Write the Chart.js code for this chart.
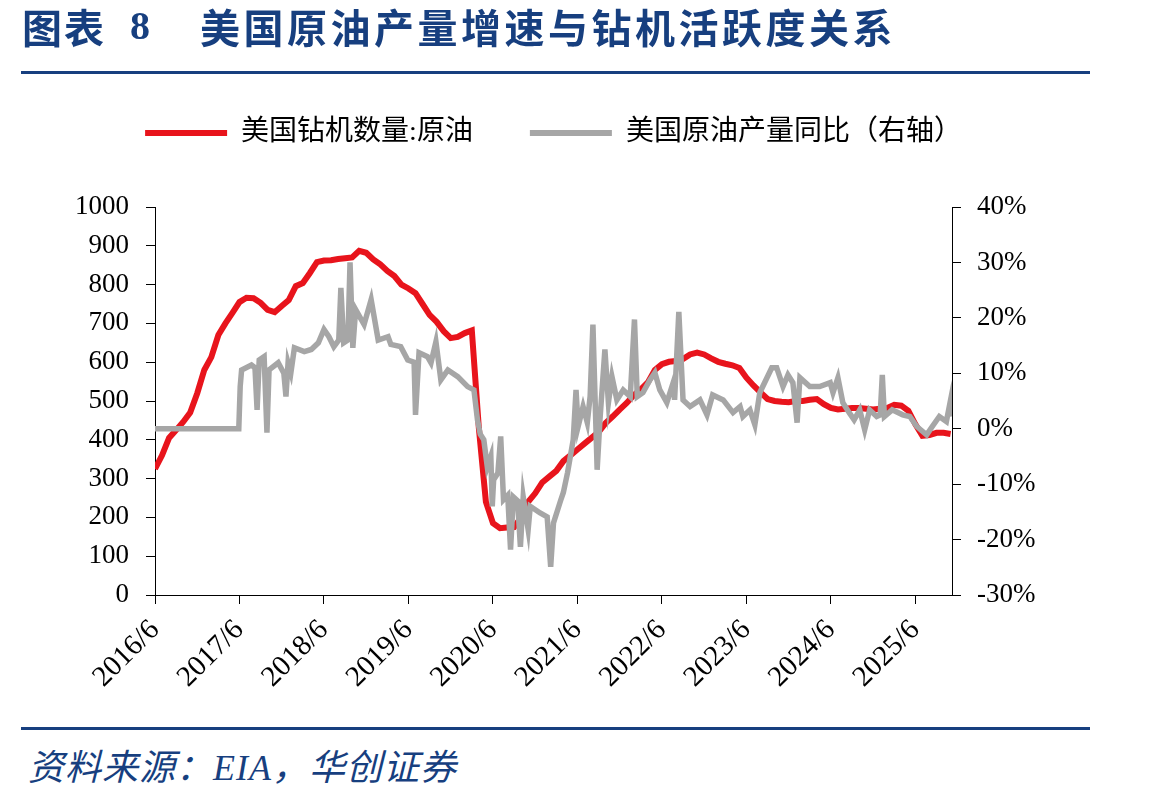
<!DOCTYPE html>
<html lang="zh">
<head>
<meta charset="utf-8">
<title>美国原油产量增速与钻机活跃度关系</title>
<script src="https://cdn.jsdelivr.net/npm/chart.js@4.4.0/dist/chart.umd.min.js"></script>
<style>
  body { margin: 0; background: #fff; }
  .page { position: relative; width: 1149px; height: 795px; overflow: hidden; }
  .chart-box { position: absolute; left: 0; top: 0; width: 1149px; height: 720px; }
  .title { position: absolute; top: 2px; font-weight: bold; font-size: 40px; line-height: 48px;
           color: #173F7F; font-family: "Noto Sans CJK SC"; white-space: nowrap; }
  .rule { position: absolute; left: 21px; width: 1069px; height: 3px; background: #173F7F; }
  .source { position: absolute; left: 28px; top: 743px; font-style: italic; font-size: 36px;
            line-height: 42px; letter-spacing: 1px; color: #173F7F; font-family: "Noto Sans CJK SC";
            white-space: nowrap; }
</style>
</head>
<body>
<div class="page">
  <div class="chart-box"><canvas id="oilChart"></canvas></div>
  <div class="title" style="left:22px; letter-spacing:2px;">图表</div>
  <div class="title" style="left:130px; font-family:'Liberation Serif';">8</div>
  <div class="title" style="left:200px; letter-spacing:3.5px;">美国原油产量增速与钻机活跃度关系</div>
  <div class="rule" style="top:71px;"></div>
  <div class="rule" style="top:727px;"></div>
  <div class="source">资料来源：<span style="font-family:'Liberation Serif'">EIA</span>，华创证券</div>
</div>

<script>
// x positions are months since 2016/6
const xTickLabels = ['2016/6', '2017/6', '2018/6', '2019/6', '2020/6',
                     '2021/6', '2022/6', '2023/6', '2024/6', '2025/6'];

// 美国钻机数量:原油, monthly from 2016/6 to 2025/11
const rigCount = [
    325, 360, 405, 425, 446, 470, 520, 580, 613, 670, 700, 727,   // 2016/6 - 2017/5
    755, 766, 765, 753, 735, 729, 745, 760, 796, 804, 830, 858,   // 2017/6 - 2018/5
    862, 863, 866, 868, 870, 887, 882, 865, 852, 835, 822, 800,   // 2018/6 - 2019/5
    790, 778, 750, 722, 704, 680, 662, 665, 675, 682, 430, 240,   // 2019/6 - 2020/5
    185, 172, 174, 175, 200, 240, 262, 290, 305, 320, 345, 360,   // 2020/6 - 2021/5
    375, 390, 405, 420, 443, 460, 478, 495, 515, 530, 548, 580,   // 2021/6 - 2022/5
    595, 601, 603, 608, 620, 625, 620, 610, 601, 596, 592, 585,   // 2022/6 - 2023/5
    560, 540, 522, 505, 500, 498, 497, 500, 500, 503, 505, 492,   // 2023/6 - 2024/5
    482, 478, 480, 482, 482, 480, 478, 480, 482, 490, 488, 475,   // 2024/6 - 2025/5
    440, 410, 412, 418, 418, 415                                  // 2025/6 - 2025/11
];

// 美国原油产量同比 (%), sample times in months since 2016/6
const prodMonth = [
    0, 11.9, 12.1, 12.3, 13.7, 14.2, 14.5, 14.8, 15.5, 15.9, 16.2, 17.5, 18.3, 18.6, 18.9, 19.3, 19.8,
    21.2, 22.2, 23.2, 24.0, 24.7, 25.4, 26.1, 26.4, 26.8, 27.4, 27.7, 28.1, 28.5, 29.7, 30.7, 31.7,
    33.1, 33.5, 34.9, 35.9, 36.8, 37.0, 37.5, 38.7, 39.2, 39.9, 40.6, 41.6, 43.0, 44.4, 45.3, 45.8,
    46.2, 46.7, 47.2, 47.7, 47.9, 48.1, 48.7, 49.1, 49.5, 50.1, 50.5, 50.9, 51.5, 51.9, 52.3, 53.0,
    53.3, 54.7, 55.7, 56.2, 56.6, 57.6, 58.0, 58.6, 59.4, 59.8, 60.1, 60.8, 61.4, 61.8, 62.2, 62.8,
    63.2, 63.9, 64.4, 64.9, 65.6, 66.5, 67.5, 68.1, 68.5, 69.3, 70.3, 71.0, 71.7, 72.7, 73.6, 73.8,
    74.4, 75.0, 76.0, 77.4, 78.4, 79.2, 80.7, 82.1, 83.1, 83.5, 84.5, 85.2, 85.9, 87.6, 88.3, 89.2,
    89.9, 90.6, 91.2, 91.6, 93.0, 94.4, 95.9, 96.3, 97.0, 97.7, 98.6, 99.3, 100.1, 100.8, 101.5,
    102.5, 103.0, 103.3, 103.6, 104.7, 106.2, 107.2, 108.2, 109.6, 110.4, 111.4, 112.4, 113.0, 113.2
];
const prodYoY = [
    0, 0, 7.6, 10.6, 11.5, 11, 3.4, 12.4, 13, -0.7, 10.6, 11.9, 10, 5.8, 11.9, 10.1, 14.6,
    13.9, 14.3, 15.5, 17.9, 16.6, 14.8, 16, 25.4, 15.5, 16, 30, 14.6, 21.5, 18.8, 23.3, 16,
    16.6, 15.2, 14.8, 12.4, 12, 2.5, 13.7, 13, 11.9, 15.7, 8.8, 10.6, 9.4, 7.6, 7.0, 1.6,
    -1, -2, -6.9, -5, -14, -9.2, -8, -1.4, -12.8, -12, -21.8, -12.3, -13, -21.3, -12.3, -18.2,
    -14, -15.2, -15.9, -24.9, -17, -13, -11.5, -7.9, -2, 7, 0.4, 4, 1.1, 5.8, 18.8, -7.4,
    1.6, 14.3, 4.7, 9.4, 5.2, 7, 5.8, 19.7, 5.8, 6.5, 8.8, 10.1, 7, 4.7, 8.3, 5.2,
    21.1, 5.2, 4, 5.2, 2.5, 6.1, 5.2, 2.9, 4, 2.2, 3.4, 0.7, 6.5, 11, 11, 7.6,
    9.7, 8.3, 1.1, 9.2, 7.6, 7.6, 8.3, 6.5, 9.2, 4.7, 2.9, 1.6, 3.4, -0.2, 3.4,
    2.2, 2.5, 9.7, 2.2, 3.4, 2.5, 2.2, 0.4, -1.1, 0.4, 2.2, 1.3, 5.2, 2.2
];

const RED = '#E8141C';
const GRAY = '#A6A6A6';
const tickFont = { family: 'Liberation Serif', size: 27 };

// the legend gets a fixed height so the plot starts where it should
const legendHeight = {
    id: 'legendHeight',
    beforeInit(chart) {
        const fit = chart.legend.fit;
        chart.legend.fit = function () {
            fit.call(this);
            this.height = 145;
        };
    }
};

const axisLine = { color: '#000', width: 1 };
const axisTicks = { drawOnChartArea: false, color: '#000', tickLength: 9 };

new Chart(document.getElementById('oilChart'), {
    type: 'line',
    data: {
        datasets: [{
            label: '美国钻机数量:原油',
            data: rigCount.map((v, i) => ({ x: i, y: v })),
            borderColor: RED,
            backgroundColor: RED,
            borderWidth: 6,
            pointRadius: 0,
            yAxisID: 'y',
            order: 1
        }, {
            label: '美国原油产量同比（右轴）',
            data: prodMonth.map((m, i) => ({ x: m, y: prodYoY[i] })),
            borderColor: GRAY,
            backgroundColor: GRAY,
            borderWidth: 5.5,
            pointRadius: 0,
            yAxisID: 'y1',
            order: 0
        }]
    },
    options: {
        responsive: true,
        maintainAspectRatio: false,
        animation: false,
        layout: { padding: { top: 62, left: 55, right: 97, bottom: 30 } },
        plugins: {
            tooltip: { enabled: false },
            legend: {
                position: 'top',
                labels: {
                    color: '#000',
                    font: { family: "'Liberation Serif', 'Noto Sans CJK SC'", size: 28 },
                    boxWidth: 82,
                    boxHeight: 6,
                    padding: 57,
                    sort: (a, b) => a.datasetIndex - b.datasetIndex,
                    generateLabels: chart =>
                        Chart.defaults.plugins.legend.labels.generateLabels(chart)
                            .map(item => ({ ...item, lineWidth: 0 }))
                }
            }
        },
        scales: {
            x: {
                type: 'linear',
                min: 0,
                max: 113.2,
                border: axisLine,
                grid: axisTicks,
                ticks: {
                    stepSize: 12,
                    includeBounds: false,
                    autoSkip: false,
                    minRotation: 45,
                    maxRotation: 45,
                    padding: 9,
                    color: '#000',
                    font: { family: 'Liberation Serif', size: 29 },
                    callback: v => xTickLabels[Math.round(v / 12)]
                },
                afterFit: s => { s.height = 95; }
            },
            y: {
                position: 'left',
                min: 0,
                max: 1000,
                border: axisLine,
                grid: axisTicks,
                ticks: { stepSize: 100, padding: 17, color: '#000', font: tickFont, callback: v => String(v) },
                afterFit: s => { s.width = 100; }
            },
            y1: {
                position: 'right',
                min: -30,
                max: 40,
                border: axisLine,
                grid: axisTicks,
                ticks: { stepSize: 10, padding: 16, color: '#000', font: tickFont, callback: v => v + '%' },
                afterFit: s => { s.width = 100; }
            }
        }
    },
    plugins: [legendHeight]
});
</script>
</body>
</html>
